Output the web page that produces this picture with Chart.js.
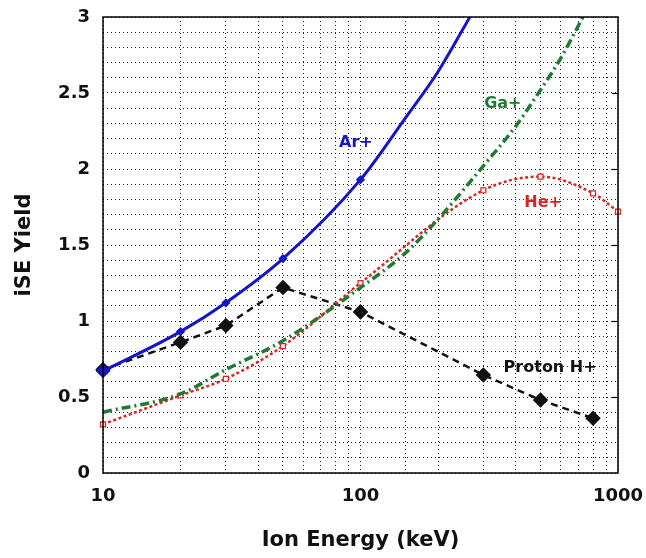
<!DOCTYPE html>
<html>
<head>
<meta charset="utf-8">
<script src="https://cdn.jsdelivr.net/npm/chart.js@4.4.1/dist/chart.umd.min.js"></script>
<style>
    html, body { margin: 0; padding: 0; background: #fff; }
</style>
</head>
<body>
<canvas id="yieldChart" width="646" height="558"></canvas>
<script>
// Ar+ (solid blue)
const arEnergy = [10, 20, 30, 50, 100, 150, 200, 266];
const arYield = [0.67, 0.93, 1.12, 1.41, 1.93, 2.34, 2.64, 3.0];

// Ga+ (green dash-dot)
const gaEnergy = [10, 20, 30, 50, 100, 150, 200, 300, 400, 500, 600, 731];
const gaYield = [0.40, 0.52, 0.68, 0.87, 1.22, 1.45, 1.67, 2.02, 2.28, 2.52, 2.73, 3.0];

// He+ (red dotted, open squares)
const heEnergy = [10, 20, 30, 50, 100, 300, 500, 800, 1000];
const heYield = [0.32, 0.51, 0.62, 0.835, 1.25, 1.86, 1.95, 1.84, 1.72];

// Proton H+ (black dashed, diamonds)
const hEnergy = [10, 20, 30, 50, 100, 300, 500, 800];
const hYield = [0.68, 0.86, 0.97, 1.22, 1.06, 0.645, 0.48, 0.36];

// curve labels: text, energy, yield, color
const labelTexts = ['Ar+', 'Ga+', 'He+', 'Proton H+'];
const labelEnergy = [96, 357, 512, 545];
const labelYield = [2.17, 2.43, 1.78, 0.69];
const labelColors = ['#1414c8', '#1f7a32', '#dd2222', '#111111'];

const xMajor = [10, 100, 1000];

function toPoints(xs, ys) {
    return xs.map((x, i) => ({ x: x, y: ys[i] }));
}

// frame + inner ticks on the right side
const framePlugin = {
    id: 'frame',
    afterDatasetsDraw(chart) {
        const { ctx, chartArea: a, scales } = chart;
        ctx.save();
        ctx.strokeStyle = '#000';
        ctx.lineWidth = 1.5;
        ctx.setLineDash([]);
        ctx.strokeRect(a.left, a.top, a.right - a.left, a.bottom - a.top);
        ctx.lineWidth = 1.2;
        for (let v = 0.5; v < 3; v += 0.5) {
            const y = Math.round(scales.y.getPixelForValue(v)) + 0.5;
            ctx.beginPath();
            ctx.moveTo(a.right - 6, y);
            ctx.lineTo(a.right, y);
            ctx.stroke();
        }
        ctx.restore();
    }
};

// text labels next to each curve
const curveLabels = {
    id: 'curveLabels',
    afterDatasetsDraw(chart) {
        const { ctx, scales } = chart;
        ctx.save();
        ctx.font = 'bold 16px "DejaVu Sans"';
        ctx.textAlign = 'center';
        ctx.textBaseline = 'middle';
        labelTexts.forEach((t, i) => {
            ctx.fillStyle = labelColors[i];
            ctx.fillText(t, scales.x.getPixelForValue(labelEnergy[i]), scales.y.getPixelForValue(labelYield[i]));
        });
        ctx.restore();
    }
};

const clipBox = { left: 8, right: 8, top: 0, bottom: 8 };

const ctx = document.getElementById('yieldChart').getContext('2d');
new Chart(ctx, {
    type: 'line',
    data: {
        datasets: [
            {
                label: 'Ar+',
                data: toPoints(arEnergy, arYield),
                borderColor: '#1414c8',
                backgroundColor: '#1414c8',
                borderWidth: 3,
                cubicInterpolationMode: 'monotone',
                pointStyle: 'rectRot',
                pointRadius: [5, 2.5, 2.5, 2.5, 2.5, 0, 0, 0],
                clip: clipBox
            },
            {
                label: 'Ga+',
                data: toPoints(gaEnergy, gaYield),
                borderColor: '#1f7a32',
                borderWidth: 3.5,
                borderDash: [9, 4, 2, 4],
                cubicInterpolationMode: 'monotone',
                pointRadius: 0,
                clip: clipBox
            },
            {
                label: 'He+',
                data: toPoints(heEnergy, heYield),
                borderColor: '#dd2222',
                backgroundColor: '#ffffff',
                borderWidth: 2.5,
                borderDash: [3, 2.5],
                cubicInterpolationMode: 'monotone',
                pointStyle: 'rect',
                pointRadius: 3.5,
                pointBorderWidth: 1.2,
                clip: clipBox
            },
            {
                label: 'Proton H+',
                data: toPoints(hEnergy, hYield),
                borderColor: '#111111',
                backgroundColor: '#111111',
                borderWidth: 2.5,
                borderDash: [7, 5],
                tension: 0,
                pointStyle: 'rectRot',
                pointRadius: 6,
                clip: clipBox
            }
        ]
    },
    options: {
        responsive: false,
        animation: false,
        layout: { padding: { top: 17, right: 28, left: 0, bottom: 0 } },
        plugins: {
            legend: { display: false },
            tooltip: { enabled: false }
        },
        scales: {
            x: {
                type: 'logarithmic',
                min: 10,
                max: 1000,
                afterFit(scale) {
                    scale.height = 85;
                    scale.paddingLeft = 0;
                    scale.paddingRight = 0;
                },
                grid: { color: '#222', lineWidth: 1, drawTicks: false },
                border: { display: false, dash: [1, 3] },
                ticks: {
                    autoSkip: false,
                    maxRotation: 0,
                    padding: 13,
                    color: '#111',
                    font: { family: 'DejaVu Sans', size: 18, weight: 'bold' },
                    callback: (v) => xMajor.includes(Math.round(v)) ? String(Math.round(v)) : ''
                },
                title: {
                    display: true,
                    text: 'Ion Energy (keV)',
                    color: '#111',
                    padding: 5,
                    font: { family: 'DejaVu Sans', size: 21, weight: 'bold' }
                }
            },
            y: {
                min: 0,
                max: 3,
                afterFit(scale) {
                    scale.width = 103;
                    scale.paddingTop = 0;
                    scale.paddingBottom = 0;
                },
                grid: { color: '#222', lineWidth: 1, drawTicks: false },
                border: { display: false, dash: [1, 3] },
                ticks: {
                    stepSize: 0.1,
                    autoSkip: false,
                    padding: 13,
                    color: '#111',
                    font: { family: 'DejaVu Sans', size: 18, weight: 'bold' },
                    callback: (v) => Math.abs(v * 2 - Math.round(v * 2)) < 1e-6 ? String(Math.round(v * 2) / 2) : ''
                },
                title: {
                    display: true,
                    text: 'iSE Yield',
                    color: '#111',
                    padding: 12,
                    font: { family: 'DejaVu Sans', size: 21, weight: 'bold' }
                }
            }
        }
    },
    plugins: [framePlugin, curveLabels]
});
</script>
</body>
</html>
